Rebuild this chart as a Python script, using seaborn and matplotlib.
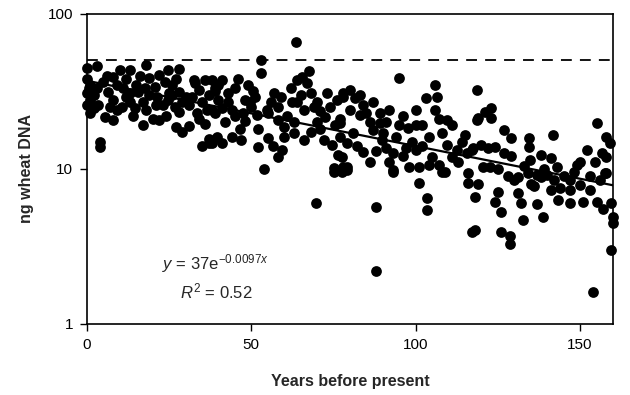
import numpy as np
import pandas as pd
import seaborn as sns
import matplotlib
matplotlib.use('Agg')
import matplotlib.pyplot as plt

# values (years before present, ng wheat DNA)
years = [
    0, 0.5, 0, 1, 2, 1, 3, 3.5, 4, 4, 5, 5.5, 6.5, 8, 8, 8, 9, 10, 0, 1, 0, 2, 6, 7, 3, 9,
    11, 10.6, 13, 13, 13, 14.6, 15, 15.5, 17, 17, 17.6, 18, 18, 19, 20, 12, 16, 12, 19, 14,
    20.7, 21.3, 22, 22, 23, 23.7, 24.6, 24.6, 26, 26.8, 27, 28, 28, 28, 29, 29, 30, 21, 25, 27, 24, 26,
    31, 31, 32.5, 33.5, 34, 34, 35, 36, 36.5, 37, 37, 38, 38, 38, 39, 39, 39, 39.5, 32, 35, 33, 36, 40, 37,
    41, 41, 41, 43, 44, 44, 45, 46.5, 47, 47.5, 48, 49, 49.6, 42, 43, 46, 48, 45, 40, 50,
    50.5, 51, 51.7, 52, 53, 53, 54, 54.7, 55, 55, 56.6, 58, 58, 59, 59.3, 60, 60, 52, 56, 57, 58,
    62, 62.4, 63.5, 64, 64, 65.4, 66, 67, 67.5, 68, 69, 69.7, 61, 63, 65, 66, 68, 63, 70,
    71, 72.4, 72, 73, 74.5, 75, 75, 75.4, 76, 76.4, 77, 77, 77, 77.5, 77.5, 78, 78, 78, 79, 79, 79, 80, 80, 70, 74, 71,
    81, 81.5, 83, 84, 85, 87, 87, 88, 88, 89, 89, 89.7, 82, 84, 86, 86, 83, 88, 90,
    91, 92, 93, 93, 93, 95, 95, 96, 97, 97.6, 98, 91, 94, 99, 96, 92,
    100, 100, 100, 101, 101, 102, 103, 103.5, 103.5, 104, 106, 106.5, 106, 107, 107, 108, 109, 109.5, 109.5, 104, 105, 102, 108,
    111, 112.5, 115, 115.6, 116, 116, 117, 118, 117.4, 118, 118.6, 118.6, 117, 119, 120, 120.5, 113, 114, 111, 119,
    121, 122, 122.6, 123, 123, 124, 125, 124, 126, 126, 127, 127, 128.7, 128.7, 129, 129, 130, 125, 128,
    131, 131, 132, 132.6, 134, 134.5, 134.5, 134.8, 136, 137, 137, 138, 138, 138.7, 133, 135, 139,
    140, 141, 141, 141.8, 143, 143.3, 147, 147, 147, 149, 150, 142, 145, 144, 148,
    151, 152, 153, 154.5, 155, 155, 154, 156, 156.7, 157.6, 158, 159, 158, 158, 159.5, 160, 160, 159.5, 157, 153, 150,
]
dna = [
    45, 33, 31, 28, 24.7, 23, 46, 26, 15, 13.9, 36.5, 21.6, 31.4, 39, 28, 20.7, 35, 43.6, 38, 35, 26, 30, 40, 25, 33, 24,
    33.4, 25.2, 43.6, 31, 27, 24.7, 35, 31.4, 27, 19.2, 33, 47, 24, 38.6, 21, 38, 40, 29, 30, 22,
    33.7, 29, 40.5, 20.7, 26, 36.5, 43.6, 28, 35, 25.2, 18.7, 44, 31.4, 23.4, 27, 17.3, 29.2, 26, 31, 38, 22, 30,
    26, 19, 37.5, 23, 32.4, 21, 14, 37.5, 24, 30, 14.7, 37.5, 24, 14.7, 33.4, 23, 32, 16, 29, 27, 36, 19.5, 28, 15.5,
    37.5, 24.7, 14.7, 31, 24, 16, 33, 18, 15.4, 23, 28, 35, 27, 20, 27, 38, 20.5, 22, 35, 25,
    32, 29, 22.3, 13.9, 50.5, 41.7, 10, 24, 23, 15.8, 14, 20.7, 12, 29, 13.3, 18.7, 16, 18, 27, 31, 25,
    33, 27, 66, 37.5, 27, 39, 15.4, 36, 43, 17.3, 25, 6, 22, 20, 30, 24, 31, 17, 20,
    23.5, 21.7, 15.4, 31, 14.3, 10.1, 9.6, 19.3, 28, 12.3, 21, 16, 19.8, 12, 9.6, 31, 29, 10.3, 14.7, 10.3, 9.9, 32.4, 24, 27, 25, 18,
    17, 28.7, 22.3, 12.9, 23, 27, 17.9, 5.7, 2.2, 23, 19.8, 15.4, 14, 26, 20, 11, 30, 13, 17,
    13.7, 24, 12.7, 9.9, 9.6, 38.8, 19.2, 12.1, 13.7, 18.4, 10.3, 20, 16, 15, 22, 11,
    24, 19.2, 13.3, 10.3, 8.1, 19.2, 28.7, 6.5, 5.4, 10.6, 34.8, 29, 24, 21, 10.6, 9.6, 9.6, 20.7, 14.3, 16, 12, 14, 17,
    19.2, 13.3, 16.6, 12.7, 9.4, 8.1, 3.9, 4.05, 13.7, 6.6, 20.7, 32.4, 13.3, 21.3, 14.3, 10.3, 11, 15, 12, 8,
    23.3, 13.7, 10.3, 24.7, 21.3, 13.9, 7.1, 6.1, 5.3, 3.9, 17.9, 12.7, 3.7, 3.3, 15.9, 12.1, 8.5, 10, 9,
    7, 8.9, 6, 4.7, 9.4, 15.9, 13.9, 11.4, 7.7, 5.9, 9.1, 12.3, 8.8, 4.9, 10.5, 8, 10,
    9.1, 11.8, 7.3, 16.6, 10.3, 6.3, 6, 7.3, 8.5, 10.6, 7.9, 8.5, 9, 7.5, 9.5,
    6.1, 13.3, 7.3, 11, 6.1, 19.8, 1.6, 8.5, 12.7, 9.4, 16, 14.7, 12, 9.4, 6, 4.5, 4.9, 3, 5.5, 9, 11,
]

# exponential fit shown on the chart
fit_a = 37
fit_b = -0.0097
fit_x = [0, 160]
ref_level = 50

df = pd.DataFrame({'Years': years, 'DNA': dna})
fit = pd.DataFrame({'Years': fit_x, 'DNA': [fit_a * np.exp(fit_b * x) for x in fit_x]})

# aesthetics pre-update
sns.set_style('ticks')
plt.rcParams['font.family'] = ['Liberation Sans', 'DejaVu Sans']
plt.rcParams['mathtext.fontset'] = 'custom'
plt.rcParams['mathtext.rm'] = 'Liberation Sans'
plt.rcParams['mathtext.it'] = 'Liberation Sans:italic'

fig = plt.figure(figsize=(6.3, 3.95), dpi=100)
ax = fig.add_axes([0.138, 0.18, 0.835, 0.785])

sns.scatterplot(data=df, x='Years', y='DNA', color='black', s=60, linewidth=0,
                ax=ax, zorder=3, clip_on=False)
sns.lineplot(data=fit, x='Years', y='DNA', color='black', linewidth=1.6, ax=ax, zorder=4)
ax.axhline(ref_level, color='black', linewidth=1.3, dashes=(6, 4.5), zorder=2)

ax.set_yscale('log')
ax.set_xlim(0, 160)
ax.set_ylim(1, 100)
ax.set_xticks([0, 50, 100, 150])
ax.set_yticks([1, 10, 100])
ax.set_yticklabels(['1', '10', '100'])
ax.minorticks_off()
ax.tick_params(axis='both', direction='out', length=5, width=1, labelsize=11, pad=5, colors='black')

for sp in ax.spines.values():
    sp.set_visible(True)
    sp.set_linewidth(1.2)
    sp.set_color('black')

ax.set_xlabel('Years before present', fontsize=11.5, fontweight='bold', labelpad=16)
ax.set_ylabel('ng wheat DNA', fontsize=11.5, fontweight='bold', labelpad=10)

ax.text(22.8, 2.45, r'$y$ = 37e$^{-0.0097x}$', fontsize=12, va='center', ha='left')
ax.text(28.3, 1.63, r'$R^2$ = 0.52', fontsize=12, va='center', ha='left')

fig.savefig('out.png', dpi=100)
plt.close()
